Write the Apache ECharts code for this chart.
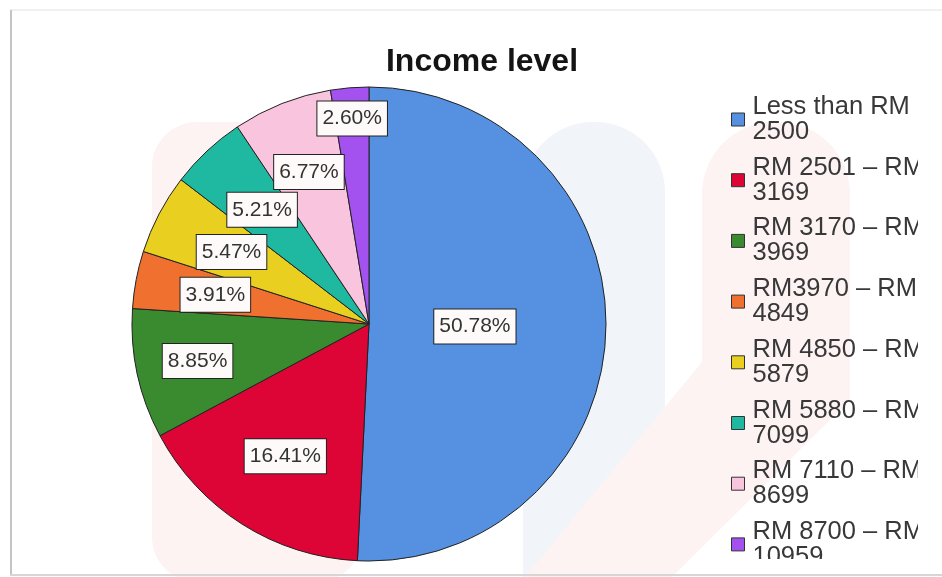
<!DOCTYPE html>
<html><head><meta charset="utf-8">
<script src="https://cdn.jsdelivr.net/npm/echarts@6/dist/echarts.min.js"></script>
<style>html,body{margin:0;padding:0;background:#fff}#c{width:942px;height:577px}</style>
</head><body><div id="c"></div>
<script>
// ---- data ----
const chartTitle = 'Income level';
const categories = [
  'Less than RM 2500',
  'RM 2501 \u2013 RM 3169',
  'RM 3170 \u2013 RM 3969',
  'RM3970 \u2013 RM 4849',
  'RM 4850 \u2013 RM 5879',
  'RM 5880 \u2013 RM 7099',
  'RM 7110 \u2013 RM 8699',
  'RM 8700 \u2013 RM 10959'
];
const percentages = [50.78, 16.41, 8.85, 3.91, 5.47, 5.21, 6.77, 2.60];
const sliceColors = ['#5591e0', '#dc0535', '#3a8a30', '#f0702f', '#e8cf20', '#1fb8a0', '#f8c4de', '#a352f0'];

// ---- layout ----
const CX = 369, CY = 324, R = 237;
const labelRadius = [0.447, 0.66, 0.74, 0.66, 0.655, 0.66, 0.69, 0.87];

const chart = echarts.init(document.getElementById('c'), null, {renderer: 'canvas'});
const FONT = '"Liberation Sans", Arial, sans-serif';
const PINK = '#fdf3f3', BLUE = '#f1f5f9';

chart.setOption({
  animation: false,
  backgroundColor: '#fff',
  color: sliceColors,
  title: {
    text: chartTitle,
    left: 482, top: 46, textAlign: 'center', padding: 0,
    textStyle: {fontFamily: FONT, fontSize: 32, fontWeight: 'bold', color: '#141414'}
  },
  legend: {
    orient: 'vertical', left: 731, top: 94, padding: 0,
    itemWidth: 13, itemHeight: 13, itemGap: 9.7, icon: 'rect',
    itemStyle: {borderColor: '#333', borderWidth: 1},
    formatter: function (name) { return name.replace(/ (\S+)$/, '\n$1'); },
    textStyle: {fontFamily: FONT, fontSize: 25.5, lineHeight: 25, color: '#383838', padding: [0, 0, 0, 3]},
    data: categories
  },
  graphic: [
    {type: 'rect', z: 0, silent: true, shape: {x: 152, y: 122, width: 210, height: 460, r: 45}, style: {fill: PINK}},
    {type: 'rect', z: 0, silent: true, shape: {x: 523, y: 122, width: 142, height: 460, r: [70, 70, 0, 0]}, style: {fill: BLUE}},
    {type: 'polygon', z: 0, silent: true, shape: {points: [[702, 300], [850, 300], [850, 400], [672, 577], [525, 577], [702, 362]]}, style: {fill: PINK}},
    {type: 'rect', z: 0, silent: true, shape: {x: 702, y: 122, width: 148, height: 280, r: [72, 72, 0, 0]}, style: {fill: PINK}},
    {type: 'rect', z: 20, silent: true, shape: {x: 918, y: 88, width: 30, height: 480}, style: {fill: '#fff'}},
    {type: 'rect', z: 20, silent: true, shape: {x: 700, y: 559, width: 242, height: 15}, style: {fill: '#fff'}},
    {type: 'line', z: 21, silent: true, shape: {x1: 10, y1: 10, x2: 942, y2: 10}, style: {stroke: '#e2e2e2', lineWidth: 1}},
    {type: 'line', z: 21, silent: true, shape: {x1: 11, y1: 10, x2: 11, y2: 576}, style: {stroke: '#c4c4c4', lineWidth: 2}},
    {type: 'line', z: 21, silent: true, shape: {x1: 10, y1: 575, x2: 942, y2: 575}, style: {stroke: '#d6d6d6', lineWidth: 2}}
  ],
  series: [{
    type: 'pie',
    center: [CX, CY],
    radius: R,
    startAngle: 90,
    clockwise: true,
    avoidLabelOverlap: false,
    silent: true,
    itemStyle: {borderColor: '#222', borderWidth: 1},
    label: {
      show: true,
      position: 'inside',
      formatter: function (p) { return p.value.toFixed(2) + '%'; },
      fontFamily: FONT, fontSize: 21, color: '#333',
      backgroundColor: '#fffafa', borderColor: '#222', borderWidth: 1,
      padding: [5, 5, 4, 5], lineHeight: 25
    },
    labelLine: {show: false},
    labelLayout: function (p) {
      const lx = p.labelRect.x + p.labelRect.width / 2;
      const ly = p.labelRect.y + p.labelRect.height / 2;
      const dx = lx - CX, dy = ly - CY;
      const d = Math.sqrt(dx * dx + dy * dy) || 1;
      const f = labelRadius[p.dataIndex] * R / d;
      return {x: CX + dx * f, y: CY + dy * f, align: 'center', verticalAlign: 'middle'};
    },
    data: categories.map(function (n, i) { return {name: n, value: percentages[i]}; })
  }]
});
</script>
</body></html>
